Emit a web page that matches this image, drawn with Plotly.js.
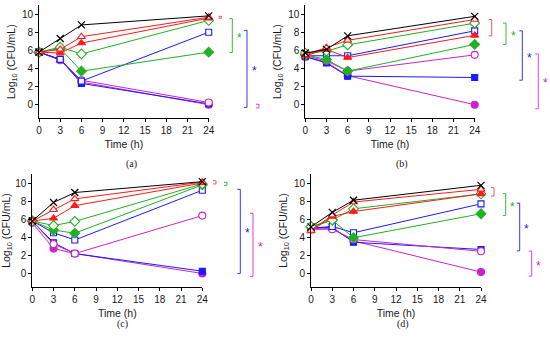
<!DOCTYPE html>
<html><head><meta charset="utf-8">
<script src="https://cdn.plot.ly/plotly-3.0.1.min.js"></script>
<style>html,body{margin:0;padding:0;background:#fff}#chart{width:550px;height:341px}</style>
</head><body><div id="chart"></div>
<script>
// ---------- DATA ----------
const time = [0, 3, 6, 24];
const xTickVals = [0, 3, 6, 9, 12, 15, 18, 21, 24];
const yTickVals = [0, 2, 4, 6, 8, 10];
const panelLabels = ['(a)', '(b)', '(c)', '(d)'];
const xTitle = 'Time (h)';
const yTitle = 'Log<sub>10</sub> (CFU/mL)';

// panel (a)
const aBlack       = [5.8, 7.3, 8.8, 9.8];
const aRedOpen     = [5.8, 6.1, 7.5, 9.65];
const aRedFilled   = [5.8, 5.7, 6.8, 9.55];
const aGreenOpen   = [5.8, 6.35, 5.6, 9.3];
const aGreenFilled = [5.8, 6.2, 3.7, 5.8];
const aBlueOpen    = [5.8, 5.0, 2.6, 8.0];
const aBlueFilled  = [5.8, 5.0, 2.35, 0.1];
const aMagOpen     = [5.8, 4.9, 2.7, 0.25];
const aMagFilled   = [5.8, 4.95, 2.5, 0.0];

// panel (b)
const bBlack       = [5.7, 6.1, 7.6, 9.75];
const bRedOpen     = [5.5, 6.3, 7.1, 9.4];
const bRedFilled   = [5.4, 6.1, 5.2, 7.65];
const bGreenOpen   = [5.7, 5.9, 6.6, 9.0];
const bGreenFilled = [5.5, 5.0, 3.7, 6.65];
const bBlueOpen    = [5.4, 5.4, 5.4, 8.15];
const bBlueFilled  = [5.3, 4.6, 3.15, 3.0];
const bMagOpen     = [5.4, 4.85, 3.7, 5.5];
const bMagFilled   = [5.3, 4.7, 3.2, 0.0];

// panel (c)
const cBlack       = [5.8, 7.85, 8.95, 10.15];
const cRedOpen     = [5.8, 7.05, 8.25, 10.1];
const cRedFilled   = [5.8, 6.1, 7.5, 10.0];
const cGreenOpen   = [5.8, 5.3, 5.75, 9.9];
const cGreenFilled = [5.8, 4.8, 4.45, 9.8];
const cBlueOpen    = [5.8, 4.5, 3.7, 9.2];
const cBlueFilled  = [5.8, 3.4, 2.2, 0.25];
const cMagOpen     = [5.8, 3.25, 2.2, 6.4];
const cMagFilled   = [5.6, 2.75, 2.2, 0.0];

// panel (d)
const dBlack       = [5.15, 6.75, 8.1, 9.75];
const dRedOpen     = [4.75, 6.45, 7.9, 9.3];
const dRedFilled   = [4.7, 6.3, 6.85, 8.8];
const dGreenOpen   = [5.2, 5.9, 7.15, 8.8];
const dGreenFilled = [5.1, 5.9, 3.95, 6.6];
const dBlueOpen    = [5.0, 5.2, 4.5, 7.7];
const dBlueFilled  = [5.0, 5.1, 3.45, 2.65];
const dMagOpen     = [4.9, 4.9, 3.75, 2.45];
const dMagFilled   = [4.9, 4.95, 3.6, 0.15];

// significance brackets (values in log10 units): top, bottom, group, star
const aBrTop = [9.75, 9.5, 8.2, 0.05];
const aBrBot = [9.55, 5.75, -0.3, -0.35];
const aBrGroup = ['red', 'green', 'blue', 'mag'];
const aBrStar = [false, true, true, false];

const bBrTop = [9.4, 9.0, 8.15, 5.6];
const bBrBot = [7.6, 6.65, 2.7, -0.45];
const bBrGroup = ['red', 'green', 'blue', 'mag'];
const bBrStar = [false, true, true, true];

const cBrTop = [10.25, 10.08, 9.3, 6.65];
const cBrBot = [9.9, 9.75, 0.0, -0.35];
const cBrGroup = ['red', 'green', 'blue', 'mag'];
const cBrStar = [false, false, true, true];

const dBrTop = [9.5, 8.85, 7.78, 2.47];
const dBrBot = [8.55, 6.4, 2.5, -0.3];
const dBrGroup = ['red', 'green', 'blue', 'mag'];
const dBrStar = [false, true, true, true];

// ---------- STYLE / LAYOUT ----------
const W = 550, H = 341;
const colors = {black:'#000000', red:'#ff1a1a', green:'#22b022', blue:'#1a1aff', mag:'#cc22cc'};
const brColors = {red:'#f05a5a', green:'#3cb83c', blue:'#3535ff', mag:'#e040e0'};
const seriesDefs = [
  {suffix:'MagFilled',   c:'mag',   sym:'circle',      open:false, size:7},
  {suffix:'BlueFilled',  c:'blue',  sym:'square',      open:false, size:6},
  {suffix:'MagOpen',     c:'mag',   sym:'circle',      open:true,  size:7},
  {suffix:'BlueOpen',    c:'blue',  sym:'square',      open:true,  size:6},
  {suffix:'GreenFilled', c:'green', sym:'diamond',     open:false, size:7.5},
  {suffix:'GreenOpen',   c:'green', sym:'diamond',     open:true,  size:7.5},
  {suffix:'RedFilled',   c:'red',   sym:'triangle-up', open:false, size:7},
  {suffix:'RedOpen',     c:'red',   sym:'triangle-up', open:true,  size:7},
  {suffix:'Black',       c:'black', sym:'x-thin-open', open:false, size:7}
];
const panelData = {
  a:{Black:aBlack,RedOpen:aRedOpen,RedFilled:aRedFilled,GreenOpen:aGreenOpen,GreenFilled:aGreenFilled,BlueOpen:aBlueOpen,BlueFilled:aBlueFilled,MagOpen:aMagOpen,MagFilled:aMagFilled},
  b:{Black:bBlack,RedOpen:bRedOpen,RedFilled:bRedFilled,GreenOpen:bGreenOpen,GreenFilled:bGreenFilled,BlueOpen:bBlueOpen,BlueFilled:bBlueFilled,MagOpen:bMagOpen,MagFilled:bMagFilled},
  c:{Black:cBlack,RedOpen:cRedOpen,RedFilled:cRedFilled,GreenOpen:cGreenOpen,GreenFilled:cGreenFilled,BlueOpen:cBlueOpen,BlueFilled:cBlueFilled,MagOpen:cMagOpen,MagFilled:cMagFilled},
  d:{Black:dBlack,RedOpen:dRedOpen,RedFilled:dRedFilled,GreenOpen:dGreenOpen,GreenFilled:dGreenFilled,BlueOpen:dBlueOpen,BlueFilled:dBlueFilled,MagOpen:dMagOpen,MagFilled:dMagFilled}
};
const brackets = {
  a:{top:aBrTop,bot:aBrBot,grp:aBrGroup,star:aBrStar},
  b:{top:bBrTop,bot:bBrBot,grp:bBrGroup,star:bBrStar},
  c:{top:cBrTop,bot:cBrBot,grp:cBrGroup,star:cBrStar},
  d:{top:dBrTop,bot:dBrBot,grp:dBrGroup,star:dBrStar}
};
// panel geometry in pixels
const geom = {
  a:{x0:39,  x1:208.7, yb:118.3, yt:5,   brX:[221.5,232.3,247,259],   cap:[131.5,164]},
  b:{x0:305.3,x1:474.7,yb:118.3, yt:5,   brX:[491.7,506,522.3,538.3], cap:[402,164]},
  c:{x0:32.3, x1:202.3,yb:287,   yt:174, brX:[216,227,240.3,253],     cap:[122.5,324]},
  d:{x0:311, x1:481,   yb:287,   yt:174, brX:[494,505.7,519.7,531.7], cap:[402.5,324]}
};
const keys = ['a','b','c','d'];
const font = 'Liberation Sans, Arial, sans-serif';
const traces = [];
const layout = {
  width:W, height:H, margin:{l:0,r:0,t:0,b:0}, showlegend:false,
  paper_bgcolor:'#ffffff', plot_bgcolor:'#ffffff',
  font:{family:font, color:'#1a1a1a', size:10},
  shapes:[], annotations:[]
};
keys.forEach((k, i) => {
  const n = i === 0 ? '' : String(i+1);
  const g = geom[k];
  const xa = 'xaxis' + n, ya = 'yaxis' + n;
  layout[xa] = {
    domain:[g.x0/W, g.x1/W], range:[0,24], anchor:'y'+n,
    tickvals:xTickVals, ticks:'outside', ticklen:3, tickwidth:1, tickcolor:'#000',
    showline:true, linecolor:'#000', linewidth:1, showgrid:false, zeroline:false,
    tickfont:{size:10, family:font, color:'#1a1a1a'},
    title:{text:xTitle, font:{size:10.5, family:font, color:'#1a1a1a'}, standoff:5}
  };
  layout[ya] = {
    domain:[1-g.yb/H, 1-g.yt/H], range:[-1.5,11], anchor:'x'+n,
    tickvals:yTickVals, ticks:'outside', ticklen:3, tickwidth:1, tickcolor:'#000',
    showline:true, linecolor:'#000', linewidth:1, showgrid:false, zeroline:false,
    tickfont:{size:10, family:font, color:'#1a1a1a'},
    title:{text:yTitle, font:{size:10.5, family:font, color:'#1a1a1a'}, standoff:4}
  };
  seriesDefs.forEach(s => {
    const col = colors[s.c];
    traces.push({
      type:'scatter', mode:'lines+markers', x:time, y:panelData[k][s.suffix],
      xaxis:'x'+n, yaxis:'y'+n, cliponaxis:false, name:k+s.suffix,
      line:{color:col, width:1},
      marker:{symbol:s.sym, size:s.size,
        color: s.sym==='x-thin-open' ? col : (s.open ? '#ffffff' : col),
        line:{color:col, width: s.sym==='x-thin-open' ? 1.2 : 1.1}}
    });
  });
  const br = brackets[k];
  br.top.forEach((t, j) => {
    const xl = g.brX[j] / W, xt = (g.brX[j] - 3) / W;
    const b = br.bot[j];
    const col = brColors[br.grp[j]];
    layout.shapes.push({type:'line', xref:'paper', yref:'y'+n, x0:xl, x1:xl, y0:t, y1:b, line:{color:col, width:1}});
    layout.shapes.push({type:'line', xref:'paper', yref:'y'+n, x0:xt, x1:xl, y0:t, y1:t, line:{color:col, width:1}});
    layout.shapes.push({type:'line', xref:'paper', yref:'y'+n, x0:xt, x1:xl, y0:b, y1:b, line:{color:col, width:1}});
    if (br.star[j]) {
      layout.annotations.push({xref:'paper', yref:'y'+n, x:(g.brX[j]+7)/W, y:(t+b)/2,
        text:'*', showarrow:false, xanchor:'center', yanchor:'middle', yshift:-2,
        font:{size:12, family:font, color:colors[br.grp[j]]}});
    }
  });
  layout.annotations.push({xref:'paper', yref:'paper', x:g.cap[0]/W, y:1-g.cap[1]/H,
    text:panelLabels[i], showarrow:false, xanchor:'center', yanchor:'middle',
    font:{size:10, family:'Liberation Serif, Times New Roman, serif', color:'#1a1a1a'}});
});
Plotly.newPlot('chart', traces, layout, {displayModeBar:false, staticPlot:true});
</script></body></html>
